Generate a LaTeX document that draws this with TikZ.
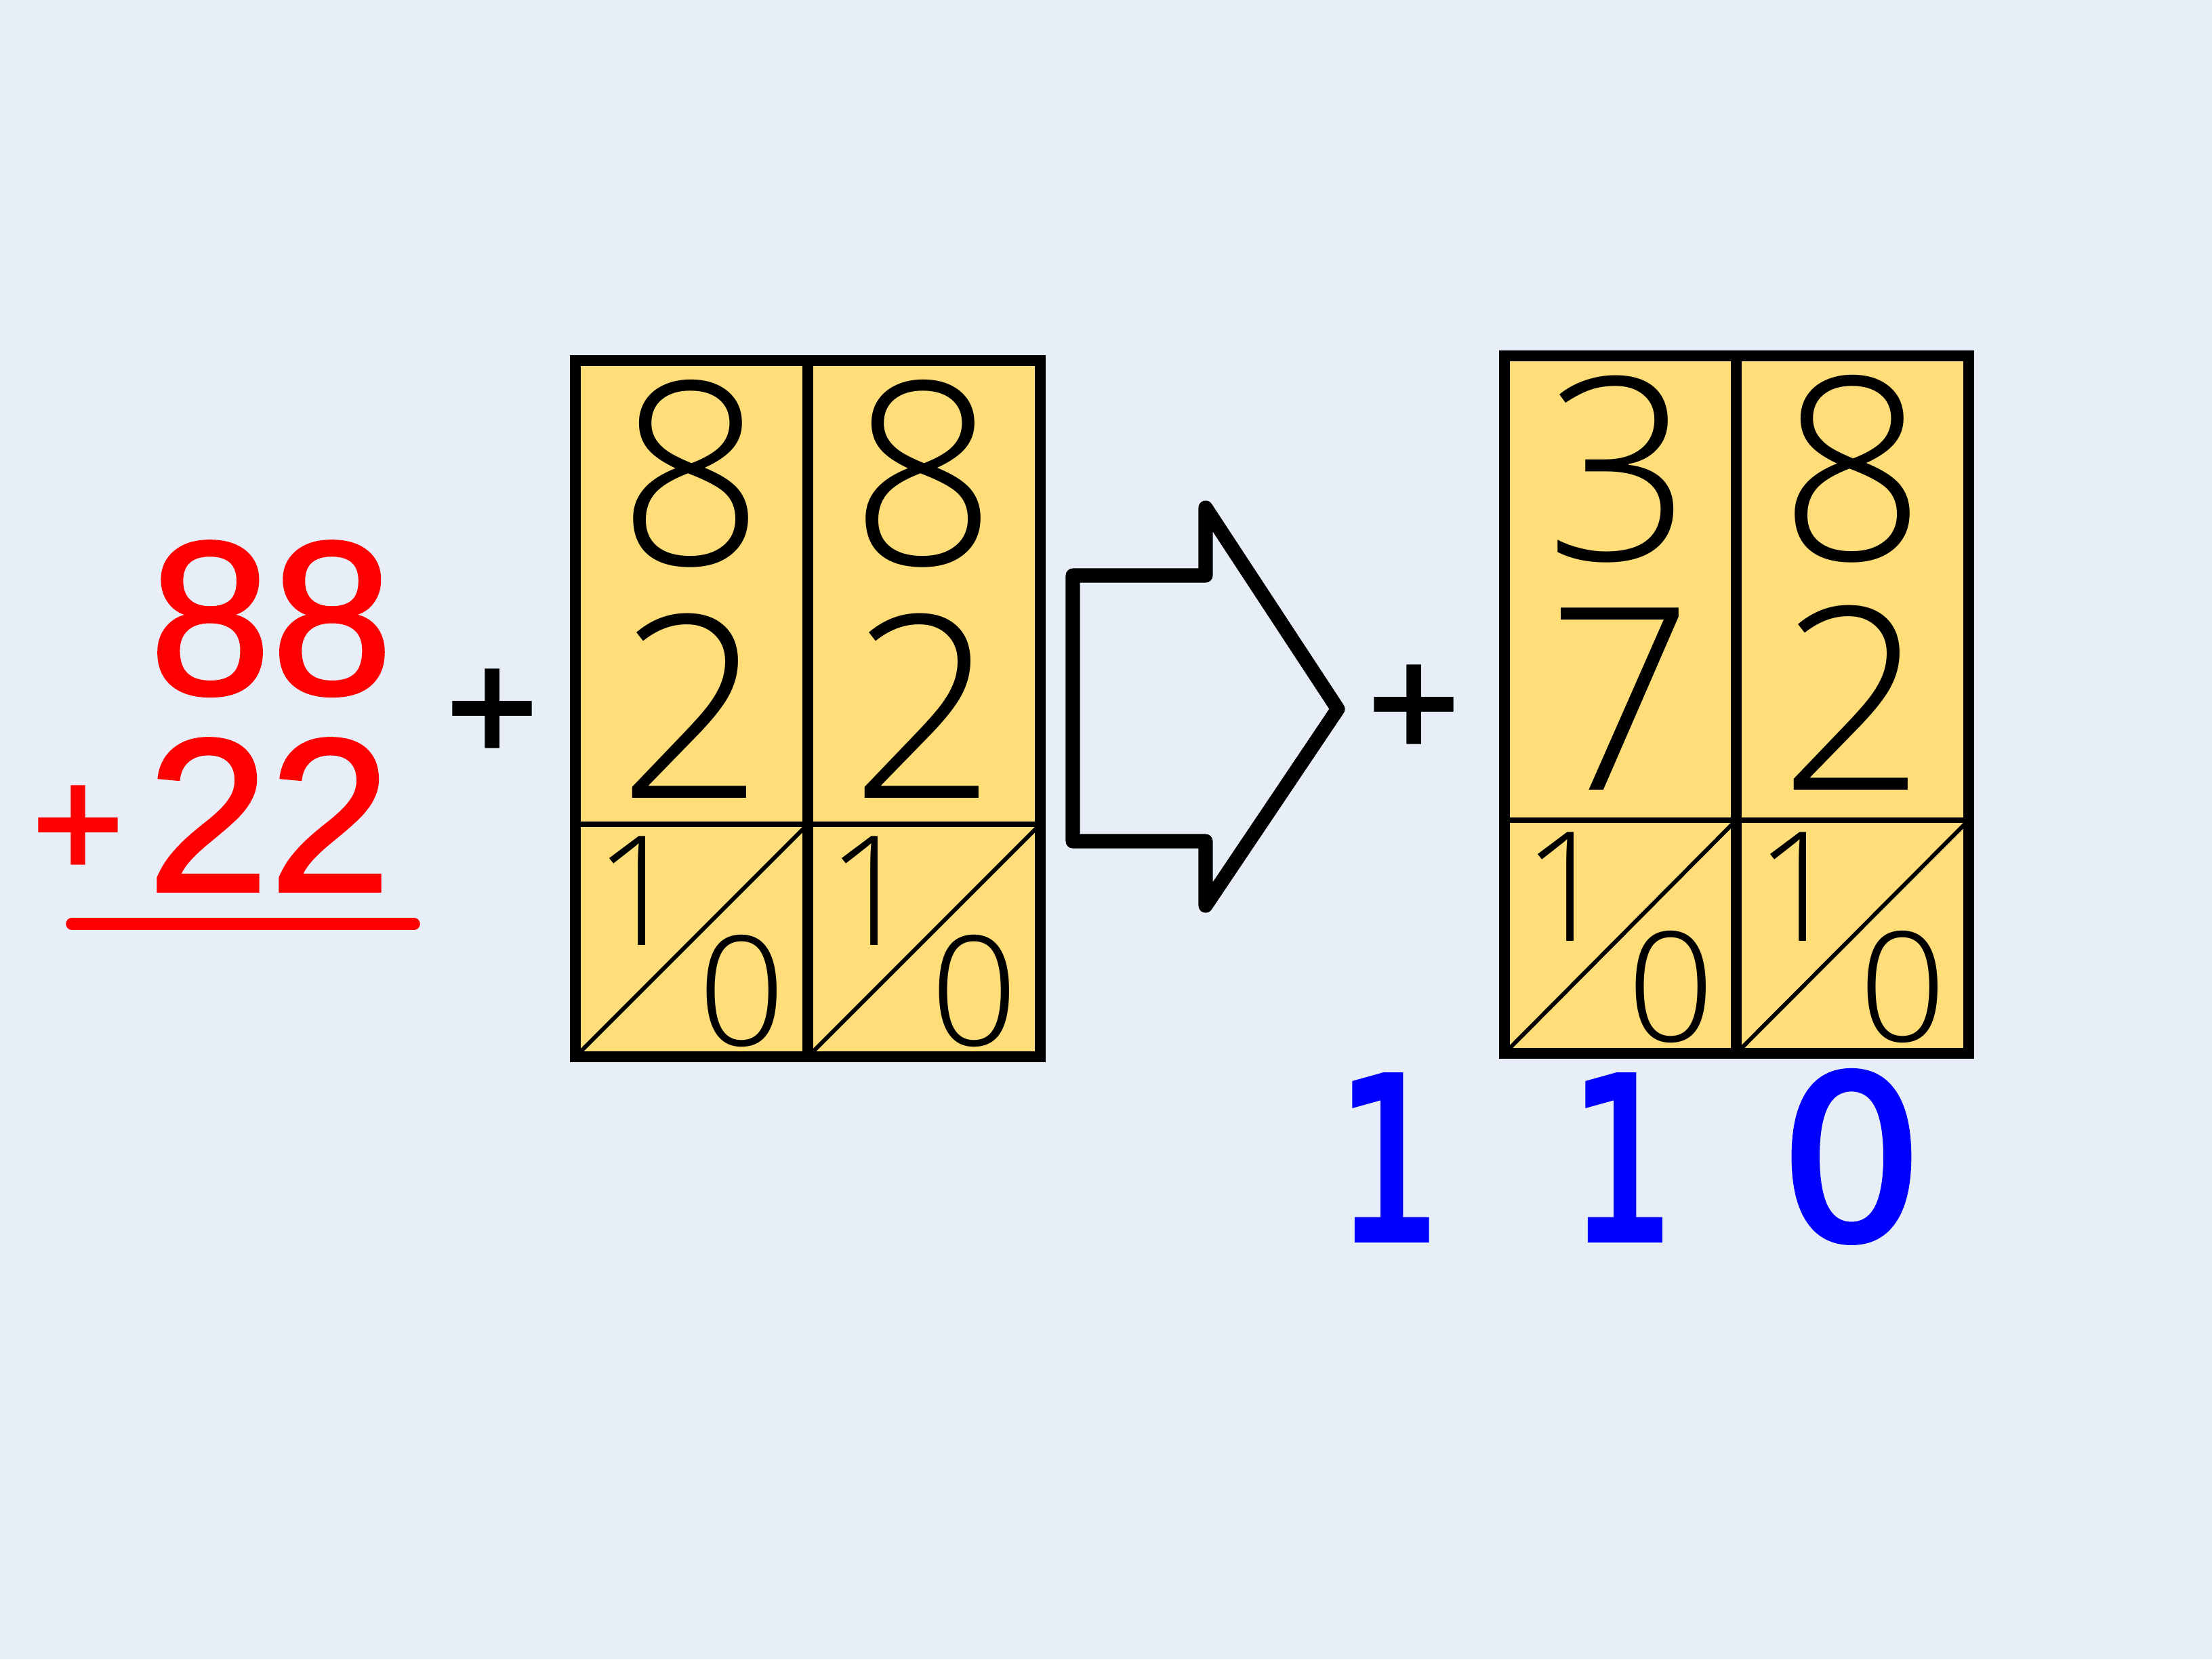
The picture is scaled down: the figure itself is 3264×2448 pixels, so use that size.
\documentclass[tikz,border=0pt]{standalone}
\usepackage{fontspec}
\IfFontExistsTF{Noto Sans Light}
  {\newfontfamily\thinfont{Noto Sans Light}}
  {\IfFontExistsTF{Open Sans Light}
     {\newfontfamily\thinfont{Open Sans Light}}
     {\newfontfamily\thinfont{Open Sans}}}
\newfontfamily\redfont{Liberation Sans}[FakeBold=1.2]
\newfontfamily\bluefont{DejaVu Sans}[FakeBold=2.5]
\newfontfamily\blueonefont{DejaVu Sans}[FakeBold=3, FakeStretch=0.72]
\newfontfamily\plusfont{DejaVu Sans}[FakeBold=4]
\definecolor{bg}{RGB}{232,238,248}
\definecolor{cellyellow}{RGB}{255,222,122}
\definecolor{redink}{RGB}{255,0,0}
\definecolor{blueink}{RGB}{0,0,255}
\tikzset{
  bigdig/.style={font=\thinfont\fontsize{107}{107}\selectfont, inner sep=0pt, anchor=base},
  smalldig/.style={font=\thinfont\fontsize{64}{64}\selectfont, inner sep=0pt, anchor=base},
  reddig/.style={text=redink, font=\redfont\fontsize{92}{92}\selectfont, inner sep=0pt, anchor=base},
  bluedig/.style={text=blueink, font=\bluefont\fontsize{95}{95}\selectfont, inner sep=0pt, anchor=base},
  blueone/.style={text=blueink, font=\blueonefont\fontsize{94}{94}\selectfont, inner sep=0pt, anchor=base},
  plussign/.style={font=\plusfont\fontsize{50}{50}\selectfont, inner sep=0pt, anchor=center},
  thickline/.style={line width=4.8pt},
  thinline/.style={line width=2.2pt},
  diagline/.style={line width=1.7pt},
}
\begin{document}
\begin{tikzpicture}[x=0.01cm,y=-0.01cm]
\useasboundingbox (0,0) rectangle (3264,2448);
\fill[bg] (0,0) rectangle (3264,2448);

% red column sum
\node[reddig] (r88) at (400,1024) {88};
\node[reddig] (r22) at (397,1315) {22};
\node[plussign, text=redink] (rplus) at (115,1217) {+};
\draw[redink, line width=5pt, line cap=round] (106,1363) -- (611,1363);

% first plus
\node[plussign] (plusA) at (726,1045) {+};

% left box
\coordinate (aTL) at (849,532);
\coordinate (aBR) at (1535,1559);
\fill[cellyellow] (aTL) rectangle (aBR);
\draw[thinline] (849,1216) -- (1535,1216);
\draw[diagline] (849,1559) -- (1192,1216);
\draw[diagline] (1192,1559) -- (1535,1216);
\draw[thickline] (aTL) rectangle (aBR);
\draw[thickline] (1192,532) -- (1192,1559);
\node[bigdig] (a8l) at (1020,833) {8};
\node[bigdig] (a8r) at (1363,833) {8};
\node[bigdig] (a2l) at (1020,1177) {2};
\node[bigdig] (a2r) at (1363,1177) {2};
\node[smalldig] (a1l) at (942,1394) {1};
\node[smalldig] (a1r) at (1285,1394) {1};
\node[smalldig] (a0l) at (1095,1542) {0};
\node[smalldig] (a0r) at (1438,1542) {0};

% arrow
\draw[line width=6pt, line join=round] (1583,849) -- (1779,849) -- (1779,749) -- (1974,1046) -- (1779,1336) -- (1779,1241) -- (1583,1241) -- cycle;

% second plus
\node[plussign] (plusB) at (2086,1039) {+};

% right box
\coordinate (bTL) at (2220,525);
\coordinate (bBR) at (2905,1554);
\fill[cellyellow] (bTL) rectangle (bBR);
\draw[thinline] (2220,1210) -- (2905,1210);
\draw[diagline] (2220,1554) -- (2562,1210);
\draw[diagline] (2562,1554) -- (2905,1210);
\draw[thickline] (bTL) rectangle (bBR);
\draw[thickline] (2562,525) -- (2562,1554);
\node[bigdig] (b3) at (2389,826) {3};
\node[bigdig] (b8) at (2734,826) {8};
\node[bigdig] (b7) at (2391,1165) {7};
\node[bigdig] (b2) at (2734,1165) {2};
\node[smalldig] (b1l) at (2312,1388) {1};
\node[smalldig] (b1r) at (2655,1388) {1};
\node[smalldig] (b0l) at (2466,1536) {0};
\node[smalldig] (b0r) at (2808,1536) {0};

% blue result
\node[blueone] (res1) at (2050,1828) {1};
\node[blueone] (res2) at (2394,1828) {1};
\node[bluedig] (res3) at (2732,1828) {0};
\end{tikzpicture}
\end{document}
